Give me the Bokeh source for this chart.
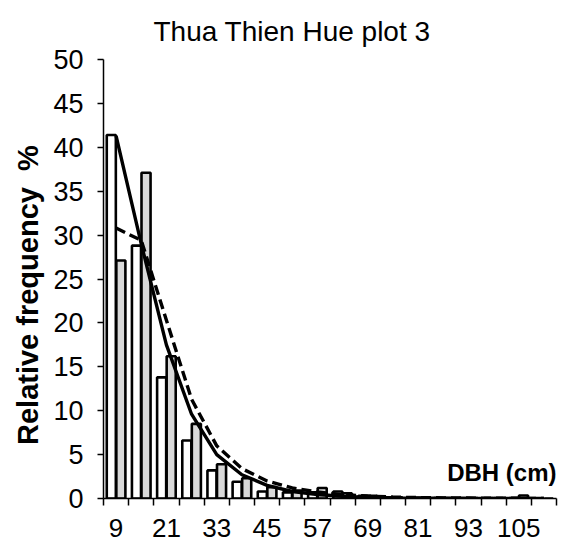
from bokeh.plotting import figure
from bokeh.models import Range1d, FixedTicker, Label, ColumnDataSource
from bokeh.transform import dodge
from bokeh.embed import file_html
from bokeh.resources import INLINE

# DBH classes (cm), 6-cm classes
dbh_classes = [9, 15, 21, 27, 33, 39, 45, 51, 57, 63, 69, 75, 81, 87, 93, 99, 105, 111]
# relative frequencies (%)
freq_white = [41.4, 28.8, 13.8, 6.6, 3.2, 1.9, 0.8, 0.7, 0.7, 0.8, 0.3, 0.15, 0.1, 0.05, 0.05, 0.05, 0.05, 0.0]
freq_gray = [27.1, 37.1, 16.2, 8.5, 3.9, 2.3, 1.3, 0.9, 1.2, 0.6, 0.3, 0.15, 0.1, 0.05, 0.05, 0.05, 0.35, 0.0]
# fitted curves (%)
fit_solid = [41.3, 29.0, 17.5, 9.6, 5.0, 2.7, 1.5, 0.8, 0.45, 0.25, 0.12, 0.06, 0.03, 0.02, 0.01, 0.0, 0.0, 0.0]
fit_dashed = [30.8, 29.4, 20.3, 11.3, 6.0, 3.4, 2.0, 1.2, 0.75, 0.45, 0.28, 0.17, 0.1, 0.07, 0.05, 0.03, 0.02, 0.01]
y_ticks = [0, 5, 10, 15, 20, 25, 30, 35, 40, 45, 50]

n = len(dbh_classes)
idx = list(range(n))
src = ColumnDataSource(dict(idx=idx, white=freq_white, gray=freq_gray,
                            solid=fit_solid, dashed=fit_dashed))

p = figure(width=567, height=548, x_range=Range1d(-0.5, n - 0.5), y_range=Range1d(0, 50),
           output_backend="svg", toolbar_location=None,
           min_border_left=103, min_border_right=11, min_border_top=59, min_border_bottom=50,
           title="Thua Thien Hue plot 3")
p.outline_line_color = None
p.grid.visible = False
p.background_fill_color = "white"
p.border_fill_color = "white"

p.title.align = "left"
p.title.offset = 50
p.title.standoff = 26
p.title.text_font = "Liberation Sans"
p.title.text_font_size = "28px"
p.title.text_font_style = "normal"
p.title.text_color = "black"

p.vbar(x=dodge("idx", -0.19, range=p.x_range), top="white", width=0.36, bottom=0,
       fill_color="white", line_color="black", line_width=2.6, source=src)
p.vbar(x=dodge("idx", 0.19, range=p.x_range), top="gray", width=0.36, bottom=0,
       fill_color="#d9d9d9", line_color="black", line_width=2.6, source=src)

p.line(x="idx", y="solid", line_color="black", line_width=3.4, source=src)
p.line(x="idx", y="dashed", line_color="black", line_width=3.4, line_dash="10 5", source=src)

xa = p.xaxis[0]
xa.ticker = FixedTicker(ticks=idx[::2], minor_ticks=[i - 0.5 for i in range(n + 1)])
xa.major_label_overrides = {i: str(dbh_classes[i]) for i in idx[::2]}
xa.major_tick_line_color = None
xa.minor_tick_out = 7
xa.minor_tick_in = 0
xa.minor_tick_line_color = "black"
xa.minor_tick_line_width = 1.5
xa.axis_line_color = "black"
xa.axis_line_width = 1.5
xa.major_label_text_font = "Liberation Sans"
xa.major_label_text_font_size = "26px"
xa.major_label_text_color = "black"
xa.major_label_standoff = 13

ya = p.yaxis[0]
ya.ticker = FixedTicker(ticks=y_ticks)
ya.minor_tick_line_color = None
ya.major_tick_out = 6
ya.major_tick_in = 0
ya.major_tick_line_color = "black"
ya.major_tick_line_width = 1.5
ya.axis_line_color = "black"
ya.axis_line_width = 1.5
ya.major_label_text_font = "Liberation Sans"
ya.major_label_text_font_size = "27px"
ya.major_label_text_color = "black"
ya.major_label_standoff = 14
ya.axis_label = "Relative frequency\u00a0\u00a0%\u00a0\u00a0\u00a0\u00a0"
ya.axis_label_text_font = "Liberation Sans"
ya.axis_label_text_font_size = "29px"
ya.axis_label_text_font_style = "bold"
ya.axis_label_text_color = "black"
ya.axis_label_standoff = 6

p.add_layout(Label(x=n - 0.5, y=3.0, text="DBH (cm)", text_align="right",
                   text_baseline="alphabetic", text_font="Liberation Sans",
                   text_font_size="24px", text_font_style="bold", text_color="black"))

open("out.html", "w").write(file_html(p, INLINE))
